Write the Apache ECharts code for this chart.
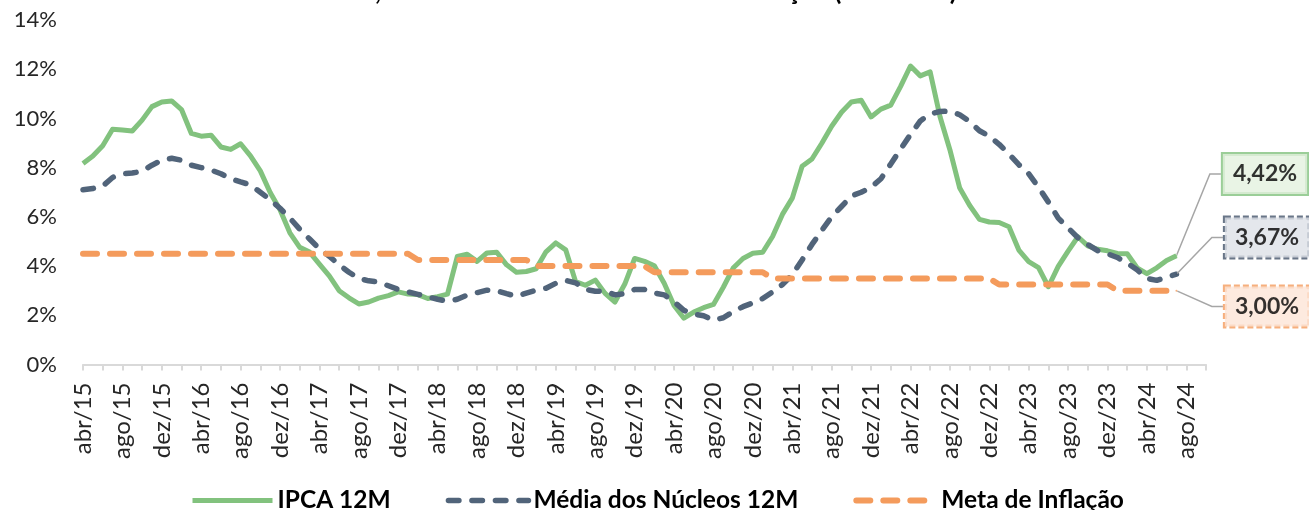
<!DOCTYPE html>
<html><head><meta charset="utf-8">
<script src="https://cdn.jsdelivr.net/npm/echarts@6/dist/echarts.min.js"></script>
<style>html,body{margin:0;padding:0;background:#fff}#c{width:1309px;height:510px}</style>
</head><body><div id="c"></div>
<script>
// ---- categories ----
const monthNames = ['jan','fev','mar','abr','mai','jun','jul','ago','set','out','nov','dez'];
const firstYear = 2015, firstMonthIndex = 3;   // abr/15
const categoryCount = 115;                       // abr/15 .. out/24
const categories = [];
for (let i = 0; i < categoryCount; i++) {
  const m = firstMonthIndex + i;
  categories.push(monthNames[m % 12] + '/' + String((firstYear + Math.floor(m / 12)) % 100).padStart(2, '0'));
}

// ---- series values (% 12 months) ----
const ipca = [
  8.17, 8.47, 8.89, 9.56, 9.53, 9.49, 9.93, 10.48, 10.67,
  10.71, 10.36, 9.39, 9.28, 9.32, 8.84, 8.74, 8.97, 8.48, 7.87, 6.99, 6.29,
  5.35, 4.76, 4.57, 4.08, 3.60, 3.00, 2.71, 2.46, 2.54, 2.70, 2.80, 2.95,
  2.86, 2.84, 2.68, 2.76, 2.86, 4.39, 4.48, 4.19, 4.53, 4.56, 4.05, 3.75,
  3.78, 3.89, 4.58, 4.94, 4.66, 3.37, 3.22, 3.43, 2.89, 2.54, 3.27, 4.31,
  4.19, 4.01, 3.30, 2.40, 1.88, 2.13, 2.31, 2.44, 3.14, 3.92, 4.31, 4.52,
  4.56, 5.20, 6.10, 6.76, 8.06, 8.35, 8.99, 9.68, 10.25, 10.67, 10.74, 10.06,
  10.38, 10.54, 11.30, 12.13, 11.73, 11.89, 10.07, 8.73, 7.17, 6.47, 5.90, 5.79,
  5.77, 5.60, 4.65, 4.18, 3.94, 3.16, 3.99, 4.61, 5.19, 4.82, 4.68, 4.62,
  4.51, 4.50, 3.93, 3.69, 3.93, 4.23, 4.42
];
const nucleos = [
  7.10, 7.15, 7.25, 7.60, 7.75, 7.78, 7.85, 8.10, 8.30,
  8.38, 8.30, 8.10, 8.00, 7.90, 7.75, 7.55, 7.42, 7.30, 7.00, 6.70, 6.35,
  5.95, 5.50, 5.10, 4.70, 4.40, 4.05, 3.75, 3.50, 3.40, 3.35, 3.20, 3.05,
  2.95, 2.85, 2.75, 2.65, 2.57, 2.65, 2.82, 2.92, 3.02, 3.00, 2.88, 2.77,
  2.90, 3.02, 3.10, 3.30, 3.42, 3.32, 3.05, 2.98, 2.98, 2.83, 2.88, 3.05,
  3.05, 2.90, 2.83, 2.55, 2.20, 2.05, 1.98, 1.80, 1.90, 2.15, 2.35, 2.50,
  2.68, 2.95, 3.25, 3.65, 4.25, 4.88, 5.45, 6.00, 6.42, 6.85, 7.00, 7.20,
  7.55, 8.15, 8.75, 9.35, 9.90, 10.18, 10.28, 10.30, 10.15, 9.88, 9.50, 9.28,
  8.95, 8.55, 8.12, 7.75, 7.20, 6.60, 5.95, 5.55, 5.15, 4.88, 4.63, 4.50,
  4.35, 4.12, 3.85, 3.50, 3.42, 3.55, 3.67
];
const meta = [
  4.5, 4.5, 4.5, 4.5, 4.5, 4.5, 4.5, 4.5, 4.5,
  4.5, 4.5, 4.5, 4.5, 4.5, 4.5, 4.5, 4.5, 4.5, 4.5, 4.5, 4.5,
  4.5, 4.5, 4.5, 4.5, 4.5, 4.5, 4.5, 4.5, 4.5, 4.5, 4.5, 4.5,
  4.5, 4.25, 4.25, 4.25, 4.25, 4.25, 4.25, 4.25, 4.25, 4.25, 4.25, 4.25,
  4.25, 4.0, 4.0, 4.0, 4.0, 4.0, 4.0, 4.0, 4.0, 4.0, 4.0, 4.0,
  4.0, 3.75, 3.75, 3.75, 3.75, 3.75, 3.75, 3.75, 3.75, 3.75, 3.75, 3.75,
  3.75, 3.5, 3.5, 3.5, 3.5, 3.5, 3.5, 3.5, 3.5, 3.5, 3.5, 3.5,
  3.5, 3.5, 3.5, 3.5, 3.5, 3.5, 3.5, 3.5, 3.5, 3.5, 3.5, 3.5,
  3.25, 3.25, 3.25, 3.25, 3.25, 3.25, 3.25, 3.25, 3.25, 3.25, 3.25, 3.25,
  3.0, 3.0, 3.0, 3.0, 3.0, 3.0, 3.0
];
const seriesNames = ['IPCA 12M', 'Média dos Núcleos 12M', 'Meta de Inflação'];
const yMin = 0, yMax = 14, yStep = 2;
const titleText = 'IPCA 12M, Média dos Núcleos e Meta de Inflação (12 meses)';

// ---- styles ----
const GREEN = '#82c27e', SLATE = '#51647a', ORANGE = '#f49b5c';
const FONT = 'Lato';
const fmt = v => v.toFixed(2).replace('.', ',') + '%';
const lastPoint = arr => [[arr.length - 1, arr[arr.length - 1]]];

const lineStyles = [
  { color: GREEN, width: 5, join: 'round' },
  { color: SLATE, width: 5.5, type: [10.5, 13], cap: 'round', join: 'round' },
  { color: ORANGE, width: 6, type: [14, 13], cap: 'round', join: 'round' }
];

function endLabelSeries(name, arr, color, bg, dashed, x, y) {
  return {
    type: 'scatter', name: name, data: lastPoint(arr), symbolSize: 2,
    itemStyle: { color: color }, silent: true, z: 5,
    label: {
      show: true, formatter: p => fmt(p.value[1]),
      fontFamily: FONT, fontWeight: 'bold', fontSize: 23, color: '#000',
      backgroundColor: bg, borderColor: color, borderWidth: 2,
      borderType: dashed ? [6, 3] : 'solid',
      padding: [9, 10, 8, 10]
    },
    labelLayout: { x: x, y: y, align: 'center', verticalAlign: 'middle' },
    labelLine: { show: true, length2: 11, lineStyle: { color: '#a6a6a6', width: 1.5 } }
  };
}

const chart = echarts.init(document.getElementById('c'), null, { renderer: 'canvas' });
chart.setOption({
  animation: false,
  backgroundColor: '#fff',
  title: {
    text: titleText, left: 250, top: -26,
    textStyle: { fontFamily: FONT, fontWeight: 'bold', fontSize: 26, color: '#000' }
  },
  grid: { left: 83, right: 103, top: 20, bottom: 145.5, containLabel: false },
  legend: {
    data: seriesNames.map((n, i) => ({ name: n, lineStyle: lineStyles[i] })),
    left: 185, top: 483,
    itemWidth: 80, itemHeight: 14, itemGap: 55,
    itemStyle: { opacity: 0 },
    textStyle: { fontFamily: FONT, fontWeight: 'bold', fontSize: 24.5, color: '#000' }
  },
  xAxis: {
    type: 'category', data: categories, boundaryGap: false,
    axisLine: { lineStyle: { color: '#d9d9d9', width: 2 } },
    axisTick: { show: true, interval: 1, length: 6, lineStyle: { color: '#d9d9d9', width: 2 } },
    axisLabel: { interval: 3, rotate: 90, margin: 18, padding: [8, 0, 0, 0],
      fontFamily: FONT, fontSize: 24, color: '#262626' },
    splitLine: { show: false }
  },
  yAxis: {
    type: 'value', min: yMin, max: yMax, interval: yStep,
    axisLine: { show: false }, axisTick: { show: false }, splitLine: { show: false },
    axisLabel: { formatter: '{value}%', margin: 26, fontFamily: FONT, fontSize: 22, color: '#262626' }
  },
  series: [
    { type: 'line', name: seriesNames[0], data: ipca, showSymbol: false, symbol: 'none',
      lineStyle: lineStyles[0], itemStyle: { color: GREEN } },
    { type: 'line', name: seriesNames[1], data: nucleos, showSymbol: false, symbol: 'none',
      lineStyle: lineStyles[1], itemStyle: { color: SLATE } },
    { type: 'line', name: seriesNames[2], data: meta, showSymbol: false, symbol: 'none',
      lineStyle: lineStyles[2], itemStyle: { color: ORANGE } },
    endLabelSeries('end-ipca', ipca, GREEN, '#e3f1df', false, 1265, 174),
    endLabelSeries('end-nucleos', nucleos, '#44546a', '#dde1e7', true, 1267, 237.5),
    endLabelSeries('end-meta', meta, ORANGE, '#fce5d7', true, 1267, 306.5)
  ]
});
</script></body></html>
